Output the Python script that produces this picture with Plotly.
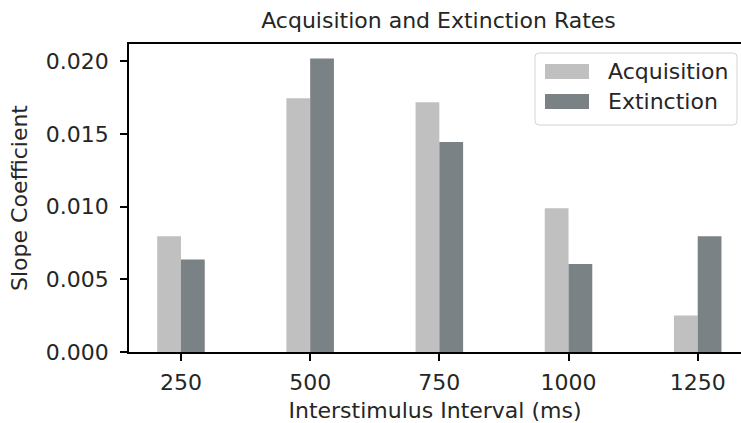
import plotly.graph_objects as go

# Data
isi_ms = [250, 500, 750, 1000, 1250]
acquisition = [0.00797, 0.01746, 0.01719, 0.00990, 0.00252]
extinction = [0.00636, 0.02021, 0.01445, 0.00606, 0.00797]
y_ticks = [0.000, 0.005, 0.010, 0.015, 0.020]
series_names = ["Acquisition", "Extinction"]

ACQ_COLOR = "#c0c0c0"
EXT_COLOR = "#7b8286"
TEXT_COLOR = "#262626"
FONT = "DejaVu Sans"
FS = 22
BAR_W = 46

# plot area in pixels (for converting legend-box placement to paper coords)
W, H = 741, 423
L, R, T, B = 129, 0, 44, 71
PW, PH = W - L - R, H - T - B


def px(x):
    return (x - L) / PW


def py(y):
    return (H - B - y) / PH


fig = go.Figure()
fig.add_trace(go.Bar(x=isi_ms, y=acquisition, name=series_names[0],
                     width=BAR_W, offset=-BAR_W, showlegend=False,
                     marker=dict(color=ACQ_COLOR, line=dict(width=0))))
fig.add_trace(go.Bar(x=isi_ms, y=extinction, name=series_names[1],
                     width=BAR_W, offset=0, showlegend=False,
                     marker=dict(color=EXT_COLOR, line=dict(width=0))))

# legend box (matplotlib style: rounded frame, wide patches)
x0, x1, y0, y1 = px(535), px(737), py(125), py(53)
rx, ry = 4 / PW, 4 / PH
path = (f"M{x0+rx},{y1} L{x1-rx},{y1} Q{x1},{y1} {x1},{y1-ry} "
        f"L{x1},{y0+ry} Q{x1},{y0} {x1-rx},{y0} L{x0+rx},{y0} "
        f"Q{x0},{y0} {x0},{y0+ry} L{x0},{y1-ry} Q{x0},{y1} {x0+rx},{y1} Z")
shapes = [dict(type="path", path=path, xref="paper", yref="paper",
               line=dict(color="#d4d4d4", width=1), fillcolor="rgba(255,255,255,0.8)",
               layer="above")]
annotations = []
for name, color, top in [(series_names[0], ACQ_COLOR, 64), (series_names[1], EXT_COLOR, 94)]:
    shapes.append(dict(type="rect", xref="paper", yref="paper",
                       x0=px(545), x1=px(589), y0=py(top + 15), y1=py(top),
                       fillcolor=color, line=dict(width=0), layer="above"))
    annotations.append(dict(text=name, xref="paper", yref="paper", x=px(606),
                            y=py(top + 7.5), xanchor="left", yanchor="middle",
                            showarrow=False,
                            font=dict(family=FONT, size=FS, color=TEXT_COLOR)))

fig.update_layout(
    width=W, height=H,
    margin=dict(l=L, r=R, t=T, b=B),
    paper_bgcolor="white", plot_bgcolor="white",
    barmode="overlay",
    font=dict(family=FONT, size=FS, color=TEXT_COLOR),
    title=dict(text="Acquisition and Extinction Rates", x=0.5057, xref="paper",
               xanchor="center", y=1 - 20 / H, yref="container", yanchor="middle",
               font=dict(family=FONT, size=FS, color=TEXT_COLOR)),
    showlegend=False,
    shapes=shapes,
    annotations=annotations,
)
fig.update_xaxes(
    range=[149.4, 1333.8], tickvals=isi_ms, ticktext=[str(v) for v in isi_ms],
    showline=True, linecolor="black", linewidth=1.6, mirror=True,
    ticks="outside", ticklen=7, tickwidth=1.6, tickcolor="black",
    ticklabelstandoff=3, automargin=False,
    showgrid=False, zeroline=False,
    title=dict(text="Interstimulus Interval (ms)", standoff=9, font=dict(size=FS)),
)
fig.update_yaxes(
    range=[0, 0.0212], tickvals=y_ticks, tickformat=".3f",
    showline=True, linecolor="black", linewidth=1.6, mirror=False,
    ticks="outside", ticklen=7, tickwidth=1.6, tickcolor="black",
    ticklabelstandoff=7, automargin=False,
    showgrid=False, zeroline=False,
    title=dict(text="Slope Coefficient", standoff=12, font=dict(size=FS)),
)

fig.write_html("out.html",
               config={"displayModeBar": False},
               post_script="document.body.style.margin='0';document.body.style.overflow='hidden';")
